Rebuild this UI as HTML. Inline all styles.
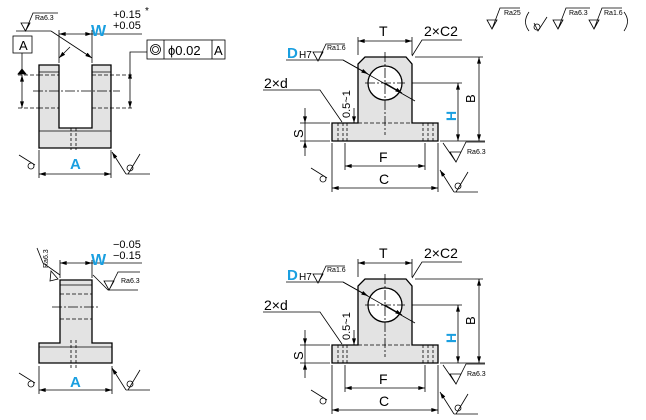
<!DOCTYPE html>
<html><head><meta charset="utf-8"><style>
body{margin:0;background:#fff}
svg{display:block;font-family:"Liberation Sans",sans-serif}
.b{fill:#1a9fe0;font-weight:bold}
</style></head><body>
<svg width="646" height="420" viewBox="0 0 646 420" xmlns="http://www.w3.org/2000/svg">
<defs>
<marker id="a" viewBox="0 0 10 6" refX="10" refY="3" markerWidth="8" markerHeight="4" orient="auto-start-reverse" markerUnits="userSpaceOnUse"><path d="M0,0L10,3L0,6z" fill="#000"/></marker>
<g id="fl"><line x1="0" y1="0" x2="16" y2="10" stroke="#000" stroke-width="0.8"/><circle cx="12" cy="11" r="3" fill="#fff" stroke="#000" stroke-width="0.8"/></g>
<g id="fr"><line x1="0" y1="0" x2="14" y2="22" stroke="#000" stroke-width="0.8" marker-start="url(#a)"/><line x1="14" y1="22" x2="38" y2="22" stroke="#000" stroke-width="0.8"/><circle cx="18" cy="16" r="3" fill="#fff" stroke="#000" stroke-width="0.8"/><line x1="16" y1="22" x2="28" y2="2" stroke="#000" stroke-width="0.8"/></g>
</defs>
<g stroke="#000" stroke-width="0.8" fill="none">
<!-- TOP LEFT -->
<path d="M39,65H59V128H92V65H111V148H39Z" fill="#e3e3e3" stroke-width="1.3"/>
<path d="M39,72H59M92,72H111M39,131H111"/>
<path d="M39,75H59M92,75H111M39,108H59M92,108H111M18,75H40M110,75H134M18,108H40M110,108H134" stroke-dasharray="4,2"/>
<path d="M33,91H120" stroke-dasharray="10,2,2,2"/>
<path d="M71,128V150M76,128V150" stroke-dasharray="3,2"/>
<line x1="22" y1="75" x2="22" y2="108" marker-start="url(#a)" marker-end="url(#a)"/>
<line x1="130" y1="72" x2="130" y2="108" marker-start="url(#a)" marker-end="url(#a)"/>
<path d="M130,72V52H147"/>
<rect x="13" y="36" width="19" height="17"/>
<line x1="22" y1="53" x2="22" y2="72"/>
<path d="M18,74L22,69L26,74Z" fill="#000"/>
<path d="M59,63V30M92,63V30"/>
<line x1="59" y1="34" x2="92" y2="34" marker-start="url(#a)" marker-end="url(#a)"/>
<path d="M92,34H142"/>
<line x1="51" y1="31" x2="92" y2="58" marker-end="url(#a)"/>
<line x1="70" y1="47" x2="59" y2="58" marker-end="url(#a)"/>
<path d="M16,31H51M21,23H30L25.5,31Z M25.5,31L33,13H58"/>
<rect x="147" y="40" width="78" height="19"/>
<path d="M164,40V59M212,40V59"/>
<circle cx="155.5" cy="49.5" r="5"/><circle cx="155.5" cy="49.5" r="3"/>
<path d="M39,150V178M111,150V178"/>
<line x1="39" y1="174" x2="111" y2="174" marker-start="url(#a)" marker-end="url(#a)"/>
<!-- BOTTOM LEFT -->
<path d="M60,280H92V343H112V363H39V343H60Z" fill="#e3e3e3" stroke-width="1.3"/>
<path d="M60,285H92M39,347H112"/>
<path d="M60,294H92M60,319H92" stroke-dasharray="4,2"/>
<path d="M52,307H98" stroke-dasharray="10,2,2,2"/>
<path d="M71,340V368M76,340V368" stroke-dasharray="3,2"/>
<path d="M60,278V260M92,278V260"/>
<line x1="60" y1="263" x2="92" y2="263" marker-start="url(#a)" marker-end="url(#a)"/>
<path d="M92,263H142"/>
<path d="M37,248L43,263L60,275M51,271L58,279L50,281Z"/>
<path d="M93,275L108,290H138M104,281H114L109,290Z M109,290L118,272H140"/>
<path d="M39,366V394M112,366V394"/>
<line x1="39" y1="390" x2="112" y2="390" marker-start="url(#a)" marker-end="url(#a)"/>
</g>
<use href="#fl" x="19" y="155"/><use href="#fr" x="112" y="152"/>
<use href="#fl" x="19" y="373"/><use href="#fr" x="112" y="368"/>
<g font-size="9" fill="#000">
<text x="35" y="20" font-size="7">Ra6.3</text>
<text x="19" y="50" font-size="13">A</text>
<text x="168" y="55" font-size="13">ϕ0.02</text>
<text x="214" y="55" font-size="13">A</text>
<text x="113" y="18" font-size="11">+0.15</text><text x="145" y="14" font-size="10">*</text>
<text x="113" y="29" font-size="11">+0.05</text>
<text x="113" y="248" font-size="11">−0.05</text>
<text x="113" y="259" font-size="11">−0.15</text>
<text x="121" y="283" font-size="7">Ra6.3</text>
<text transform="translate(48,268) rotate(-90)" font-size="7">Ra6.3</text>
</g>
<text class="b" x="91" y="36" font-size="16">W</text>
<text class="b" x="91" y="265" font-size="16">W</text>
<text class="b" x="70" y="169" font-size="15">A</text>
<text class="b" x="70" y="387" font-size="15">A</text>
<!-- RIGHT PARTS -->
<g id="rp">
<g stroke="#000" stroke-width="0.8" fill="none">
<path d="M332,123H358V64L365,57H406L412,64V123H438V141H332Z" fill="#e3e3e3" stroke-width="1.3"/>
<circle cx="385" cy="83" r="17" fill="#fff" stroke-width="1.3"/>
<path d="M358,123H412" stroke-dasharray="4,2"/>
<path d="M385,52V135M365,83H405" stroke-dasharray="10,2,2,2"/>
<path d="M338,123V141M343,123V141M347,123V141M423,123V141M428,123V141M433,123V141" stroke-dasharray="3,2"/>
<path d="M358,55V37M412,55V37"/>
<line x1="358" y1="41" x2="412" y2="41" marker-start="url(#a)" marker-end="url(#a)"/>
<path d="M462,40H422L412,56"/>
<path d="M286,60H343L415,101"/>
<line x1="343" y1="60" x2="368" y2="74" marker-end="url(#a)"/>
<line x1="385" y1="83" x2="402" y2="93" marker-end="url(#a)"/>
<path d="M263,90H320L342,122"/>
<path d="M313,52H323L318,61Z M318,61L326,44H345"/>
<line x1="354" y1="108" x2="354" y2="123" marker-end="url(#a)"/>
<path d="M350,123H358"/>
<path d="M300,123H330M300,141H330"/>
<line x1="305" y1="108" x2="305" y2="123" marker-end="url(#a)"/>
<line x1="305" y1="156" x2="305" y2="141" marker-end="url(#a)"/>
<path d="M305,123V141"/>
<path d="M412,83H462M415,57H483M440,141H485"/>
<line x1="458" y1="83" x2="458" y2="141" marker-start="url(#a)" marker-end="url(#a)"/>
<line x1="479" y1="57" x2="479" y2="141" marker-start="url(#a)" marker-end="url(#a)"/>
<path d="M345,143V170M425,143V170M332,143V192M438,143V192"/>
<line x1="345" y1="166" x2="425" y2="166" marker-start="url(#a)" marker-end="url(#a)"/>
<line x1="332" y1="188" x2="438" y2="188" marker-start="url(#a)" marker-end="url(#a)"/>
<path d="M443,143L456,162M450,152H461L456,162Z M456,162L466,142H485"/>
</g>
<use href="#fl" x="311" y="168"/><use href="#fr" x="440" y="170"/>
<g fill="#000">
<text x="379" y="36" font-size="14">T</text>
<text x="424" y="36" font-size="14">2×C2</text>
<text x="264" y="88" font-size="14">2×d</text>
<text x="379" y="162" font-size="14">F</text>
<text x="379" y="184" font-size="14">C</text>
<text transform="translate(350,118) rotate(-90)" font-size="11">0.5~1</text>
<text transform="translate(303,138) rotate(-90)" font-size="13">S</text>
<text transform="translate(475,103) rotate(-90)" font-size="13">B</text>
<text x="327" y="50" font-size="7">Ra1.6</text>
<text x="467" y="154" font-size="7">Ra6.3</text>
<text x="299" y="58" font-size="10">H7</text>
</g>
<text class="b" x="287" y="58" font-size="15">D</text>
<text class="b" transform="translate(456,121) rotate(-90)" font-size="14">H</text>
</g>
<use href="#rp" y="222"/>
<!-- legend -->
<g stroke="#000" stroke-width="0.8" fill="none">
<path d="M487,20H497L492,29Z M492,29L500,8H520"/>
<path d="M529,31Q522,22 529,12"/>
<circle cx="537" cy="27" r="3"/><path d="M534,23L538,31L547,17"/>
<path d="M553,20H563L558,29Z M558,29L566,8H590"/>
<path d="M589,20H599L594,29Z M594,29L602,8H622"/>
<path d="M624,12Q631,21 624,31"/>
</g>
<g font-size="7" fill="#000"><text x="504" y="15">Ra25</text><text x="569" y="15">Ra6.3</text><text x="604" y="15">Ra1.6</text></g>
</svg>
</body></html>
